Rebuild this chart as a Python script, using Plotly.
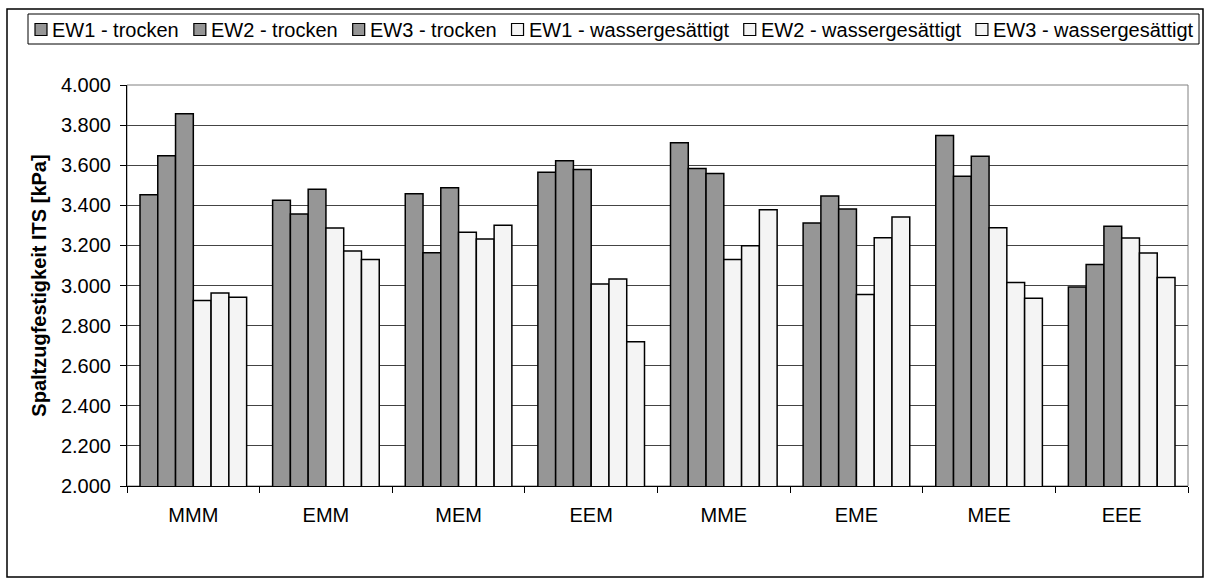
import plotly.graph_objects as go

categories = ["MMM", "EMM", "MEM", "EEM", "MME", "EME", "MEE", "EEE"]

ew1_trocken = [3453, 3425, 3457, 3565, 3712, 3312, 3748, 2993]
ew2_trocken = [3647, 3357, 3163, 3622, 3583, 3447, 3545, 3105]
ew3_trocken = [3857, 3480, 3487, 3578, 3558, 3382, 3645, 3295]
ew1_nass = [2925, 3287, 3265, 3008, 3130, 2955, 3288, 3237]
ew2_nass = [2963, 3172, 3232, 3032, 3198, 3238, 3015, 3162]
ew3_nass = [2942, 3130, 3300, 2720, 3378, 3342, 2937, 3040]

series_names = [
    "EW1 - trocken", "EW2 - trocken", "EW3 - trocken",
    "EW1 - wassergesättigt", "EW2 - wassergesättigt", "EW3 - wassergesättigt",
]
series_values = [ew1_trocken, ew2_trocken, ew3_trocken, ew1_nass, ew2_nass, ew3_nass]
series_colors = ["#969696"] * 3 + ["#f4f4f4"] * 3

y_title = "Spaltzugfestigkeit ITS [kPa]"

W, H = 1206, 579
L, R, T, B = 127, 1188, 85, 486
pw, ph = R - L, B - T
FS = 20
FONT = "Liberation Sans, Arial, sans-serif"


def px_x(x):
    return (x - L) / pw


def px_y(y):
    return (B - y) / ph


# Arial / Liberation Sans advance widths (1/1000 em) for legend layout
AW = {"E": 667, "W": 944, "1": 556, "2": 556, "3": 556, " ": 278, "-": 333,
      "t": 278, "r": 333, "o": 556, "c": 500, "k": 500, "e": 556, "n": 556,
      "w": 722, "a": 556, "s": 500, "g": 556, "ä": 556, "i": 222}


def text_w(s, size):
    return sum(AW.get(ch, 556) for ch in s) * size / 1000.0


fig = go.Figure()
for name, vals, col in zip(series_names, series_values, series_colors):
    fig.add_trace(go.Bar(
        x=categories, y=vals, name=name, showlegend=False,
        marker=dict(color=col, line=dict(color="#000000", width=1.5)),
    ))

# manual legend (symbol directly beside text, as in the reference)
leg_x0, leg_x1, leg_y0, leg_y1 = 28, 1199, 14, 44
sym = 12
sym_gap = 5
pad_l, pad_r = 7, 6
widths = [text_w(n, FS) for n in series_names]
free = (leg_x1 - pad_r) - (leg_x0 + pad_l) - sum(widths) - len(series_names) * (sym + sym_gap)
item_gap = free / (len(series_names) - 1)
shapes = [
    dict(type="rect", xref="paper", yref="paper", x0=0, x1=1, y0=0, y1=1,
         line=dict(color="#808080", width=1), layer="below"),
    dict(type="rect", xref="paper", yref="paper",
         x0=px_x(7), x1=px_x(1203), y0=px_y(577), y1=px_y(9),
         line=dict(color="#000000", width=1.5), layer="below"),
    dict(type="rect", xref="paper", yref="paper",
         x0=px_x(leg_x0), x1=px_x(leg_x1), y0=px_y(leg_y1), y1=px_y(leg_y0),
         line=dict(color="#000000", width=1), fillcolor="white", layer="below"),
]
annotations = []
cy = (leg_y0 + leg_y1) / 2 + 0.5
cx = leg_x0 + pad_l
for name, col, w in zip(series_names, series_colors, widths):
    shapes.append(dict(type="rect", xref="paper", yref="paper",
                       x0=px_x(cx), x1=px_x(cx + sym),
                       y0=px_y(cy + sym / 2), y1=px_y(cy - sym / 2),
                       line=dict(color="#000000", width=1.2), fillcolor=col))
    annotations.append(dict(text=name, xref="paper", yref="paper",
                            x=px_x(cx + sym + sym_gap - 2), y=px_y(cy),
                            xanchor="left", yanchor="middle", showarrow=False,
                            font=dict(family=FONT, size=FS, color="#000000")))
    cx += sym + sym_gap + w + item_gap

fig.update_layout(
    width=W, height=H,
    margin=dict(l=L, r=W - R, t=T, b=H - B, pad=0),
    paper_bgcolor="white", plot_bgcolor="white",
    barmode="group", bargap=0.196, bargroupgap=0,
    separators=",.",
    font=dict(family=FONT, size=FS, color="#000000"),
    showlegend=False,
    xaxis=dict(
        type="category", showgrid=False, showline=True, linecolor="#000000", linewidth=1,
        ticks="outside", tickson="boundaries", ticklen=6, tickcolor="#000000",
        tickfont=dict(family=FONT, size=FS), ticklabelstandoff=11,
    ),
    yaxis=dict(
        range=[2000, 4000], dtick=200, tickformat=",d",
        showgrid=True, gridcolor="#444444", gridwidth=1,
        showline=True, linecolor="#000000", linewidth=1,
        ticks="outside", ticklen=6, tickcolor="#000000",
        tickfont=dict(family=FONT, size=FS), ticklabelstandoff=5,
        title=dict(text="<b>" + y_title + "</b>", font=dict(family=FONT, size=FS), standoff=8),
        zeroline=False,
    ),
    shapes=shapes,
    annotations=annotations,
)

fig.write_html("out.html")
